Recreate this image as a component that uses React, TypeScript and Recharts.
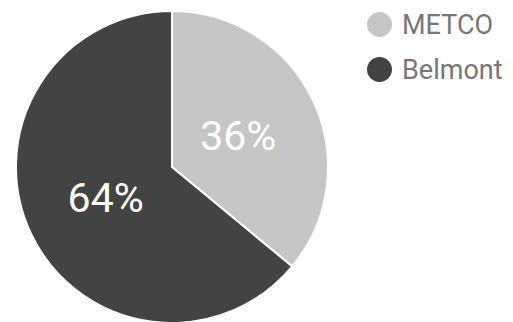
import React from "react";
import { PieChart, Pie, Cell, Legend } from "recharts";

const names = ["METCO", "Belmont"];
const shares = [36, 64];
const colors = ["#c6c6c6", "#434343"];

const data = names.map((n, i) => ({ name: n, value: shares[i] }));

const RAD = Math.PI / 180;

const renderLabel = (props: any) => {
  const { cx, cy, midAngle, outerRadius, percent } = props;
  const r = outerRadius * 0.47;
  const x = cx + r * Math.cos(-midAngle * RAD);
  const y = cy + r * Math.sin(-midAngle * RAD);
  return (
    <text
      x={x}
      y={y}
      fill="#ffffff"
      textAnchor="middle"
      dominantBaseline="central"
      fontFamily="Roboto, sans-serif"
      fontSize={41}
    >
      {`${Math.round(percent * 100)}%`}
    </text>
  );
};

const LegendContent = () => (
  <div style={{ fontFamily: "Roboto, sans-serif" }}>
    {names.map((n, i) => (
      <div
        key={n}
        style={{ display: "flex", alignItems: "center", height: 45 }}
      >
        <div
          style={{
            width: 25,
            height: 25,
            borderRadius: "50%",
            background: colors[i],
            marginRight: 10,
          }}
        />
        <span style={{ fontSize: 27, color: "#777777" }}>{n}</span>
      </div>
    ))}
  </div>
);

export default function App() {
  return (
    <div style={{ position: "absolute", left: 0, top: 0, background: "#fff" }}>
      <PieChart width={513} height={322} margin={{ top: 0, right: 0, bottom: 0, left: 0 }}>
        <Pie
          data={data}
          dataKey="value"
          nameKey="name"
          cx={172}
          cy={167}
          outerRadius={156}
          startAngle={90}
          endAngle={-270}
          stroke="#ffffff"
          strokeWidth={2}
          label={renderLabel}
          labelLine={false}
          isAnimationActive={false}
        >
          {data.map((d, i) => (
            <Cell key={d.name} fill={colors[i]} />
          ))}
        </Pie>
        <Legend
          layout="vertical"
          content={<LegendContent />}
          wrapperStyle={{ position: "absolute", left: 367, top: 2, width: 146 }}
        />
      </PieChart>
    </div>
  );
}
